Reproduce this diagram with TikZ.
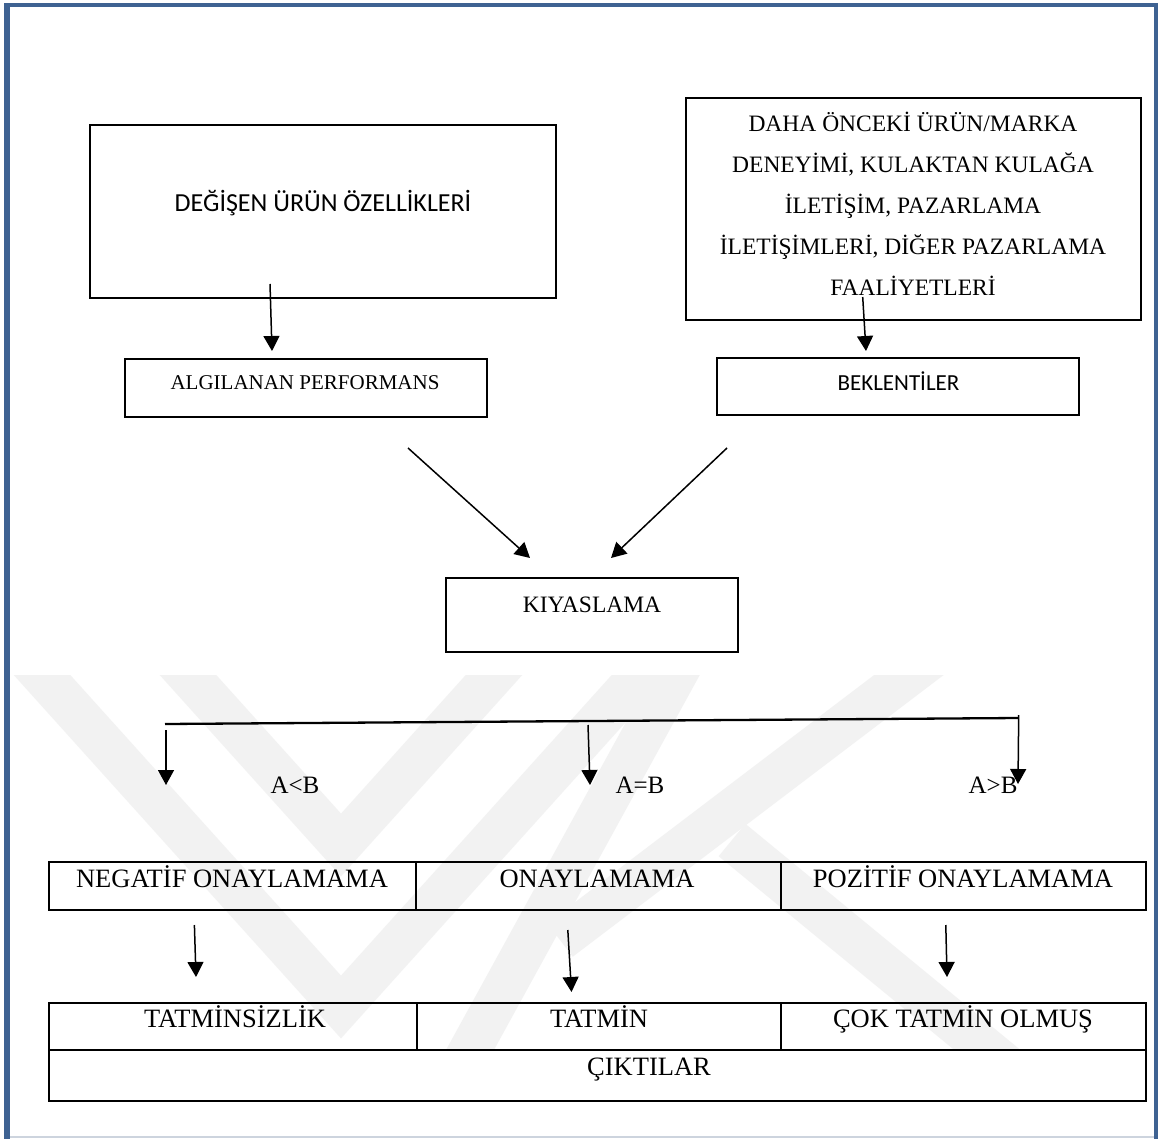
\documentclass[tikz,border=0pt]{standalone}
\usepackage{fontspec}
\setmainfont{Liberation Serif}
\newfontfamily\calib{Carlito}
\usetikzlibrary{arrows.meta}
\definecolor{framebl}{RGB}{62,98,146}
\definecolor{framelt}{RGB}{205,212,222}
\definecolor{wmark}{RGB}{242,242,242}

\begin{document}
\begin{tikzpicture}[x=1pt,y=-1pt,
  box/.style={draw=black, line width=2pt, rectangle, inner sep=0pt},
  arr/.style={draw=black, line width=1.5pt, -{Triangle[length=15pt,width=16pt]}},
  lbl/.style={anchor=base, inner sep=0pt, text=black},
  band/.style={draw=wmark, line width=42pt, line join=miter, line cap=butt},
]
\useasboundingbox (0,0) rectangle (1158,1139);
\fill[white] (0,0) rectangle (1158,1139);

% faint logo in the background
\begin{scope}
  \clip (12,675) rectangle (1150,1050);
  \draw[band] (10.5,640) -- (341,1007) -- (671.5,640);
  \draw[band] (156.5,640) -- (341,845) -- (525.5,640);
  \draw[band] (695,640) -- (448,1090);
  \draw[band] (955,640) -- (560,940);
  \draw[band] (732,840) -- (1030,1085);
\end{scope}

% page frame
\fill[framebl] (4,3) rectangle (10,1139);
\fill[framebl] (4,3) rectangle (1158,7.5);
\fill[framebl] (1153.5,3) rectangle (1158,1139);
\draw[framelt, line width=2pt] (10,1137) -- (1153.5,1137);

% upper boxes
\node[box, minimum width=466pt, minimum height=173pt] (chg) at (323,211.5) {};
\node[lbl, font=\calib\fontsize{26}{30}\selectfont] (chgt) at (323,211.7) {DEĞİŞEN ÜRÜN ÖZELLİKLERİ};

\node[box, minimum width=455pt, minimum height=222pt] (prior) at (913.5,209) {};
\begin{scope}[every node/.style={lbl, font=\fontsize{23.5}{28}\selectfont}]
  \node (pr1) at (913,132) {DAHA ÖNCEKİ ÜRÜN/MARKA};
  \node (pr2) at (913,173) {DENEYİMİ, KULAKTAN KULAĞA};
  \node (pr3) at (913,213.5) {İLETİŞİM, PAZARLAMA};
  \node (pr4) at (913,255) {İLETİŞİMLERİ, DİĞER PAZARLAMA};
  \node (pr5) at (913,295) {FAALİYETLERİ};
\end{scope}

\node[box, minimum width=362pt, minimum height=58pt] (perf) at (306,388) {};
\node[lbl, font=\fontsize{21}{25}\selectfont] (perft) at (305,389) {ALGILANAN PERFORMANS};

\node[box, minimum width=362pt, minimum height=57pt] (exp) at (898,386.5) {};
\node[lbl, font=\calib\fontsize{23}{27}\selectfont] (expt) at (898.5,390) {BEKLENTİLER};

\node[box, minimum width=292pt, minimum height=74pt] (cmp) at (592,615) {};
\node[lbl, font=\fontsize{23.5}{28}\selectfont] (cmpt) at (592,612) {KIYASLAMA};

% arrows into the middle row
\coordinate (a1s) at (270,284);   \coordinate (a1e) at (272,351);
\coordinate (a2s) at (862.7,297); \coordinate (a2e) at (866,351);
\draw[arr] (a1s) -- (a1e);
\draw[arr] (a2s) -- (a2e);

\coordinate (a3s) at (408,448); \coordinate (a3e) at (530,558);
\coordinate (a4s) at (727,448); \coordinate (a4e) at (611,558);
\draw[arr] (a3s) -- (a3e);
\draw[arr] (a4s) -- (a4e);

% branching line
\coordinate (bl) at (165,724);
\coordinate (br) at (1018.7,718);
\coordinate (brt) at (1018.7,715);
\draw[black, line width=2.3pt] (bl) -- (br);

\coordinate (b1s) at (166,730);  \coordinate (b1e) at (166,785);
\coordinate (b2s) at (588,725);  \coordinate (b2e) at (590,785);
\coordinate (b3e) at (1018,784);
\draw[arr] (b1s) -- (b1e);
\draw[arr] (b2s) -- (b2e);
\draw[arr] (brt) -- (b3e);

\begin{scope}[every node/.style={lbl, font=\fontsize{25}{29}\selectfont}]
  \node (lt) at (295,793) {A<B};
  \node (eq) at (640,793) {A=B};
  \node (gt) at (993,793) {A>B};
\end{scope}

% disconfirmation row
\node[box, minimum width=366.5pt, minimum height=48pt] (neg) at (232.25,886) {};
\node[box, minimum width=365.1pt, minimum height=48pt] (zero) at (598.05,886) {};
\node[box, minimum width=365.2pt, minimum height=48pt] (pos) at (963.2,886) {};
\begin{scope}[every node/.style={lbl, font=\fontsize{26.5}{30}\selectfont}]
  \node (negt) at (232,887) {NEGATİF ONAYLAMAMA};
  \node (zerot) at (597,887) {ONAYLAMAMA};
  \node (post) at (963,887) {POZİTİF ONAYLAMAMA};
\end{scope}

\coordinate (c1s) at (194.4,925); \coordinate (c1e) at (196,977);
\coordinate (c2s) at (567.8,930); \coordinate (c2e) at (571.5,992);
\coordinate (c3s) at (945.8,925); \coordinate (c3e) at (947,977);
\draw[arr] (c1s) -- (c1e);
\draw[arr] (c2s) -- (c2e);
\draw[arr] (c3s) -- (c3e);

% outcome rows
\node[box, minimum width=368pt, minimum height=47pt] (dis) at (233,1026.5) {};
\node[box, minimum width=364pt, minimum height=47pt] (sat) at (599,1026.5) {};
\node[box, minimum width=365pt, minimum height=47pt] (vsat) at (963.5,1026.5) {};
\node[box, minimum width=1097pt, minimum height=51pt] (out) at (597.5,1075.5) {};
\begin{scope}[every node/.style={lbl, font=\fontsize{26.5}{30}\selectfont}]
  \node (dist) at (235,1027) {TATMİNSİZLİK};
  \node (satt) at (599,1027) {TATMİN};
  \node (vsatt) at (963,1027) {ÇOK TATMİN OLMUŞ};
  \node (outt) at (649,1075) {ÇIKTILAR};
\end{scope}
\end{tikzpicture}
\end{document}
